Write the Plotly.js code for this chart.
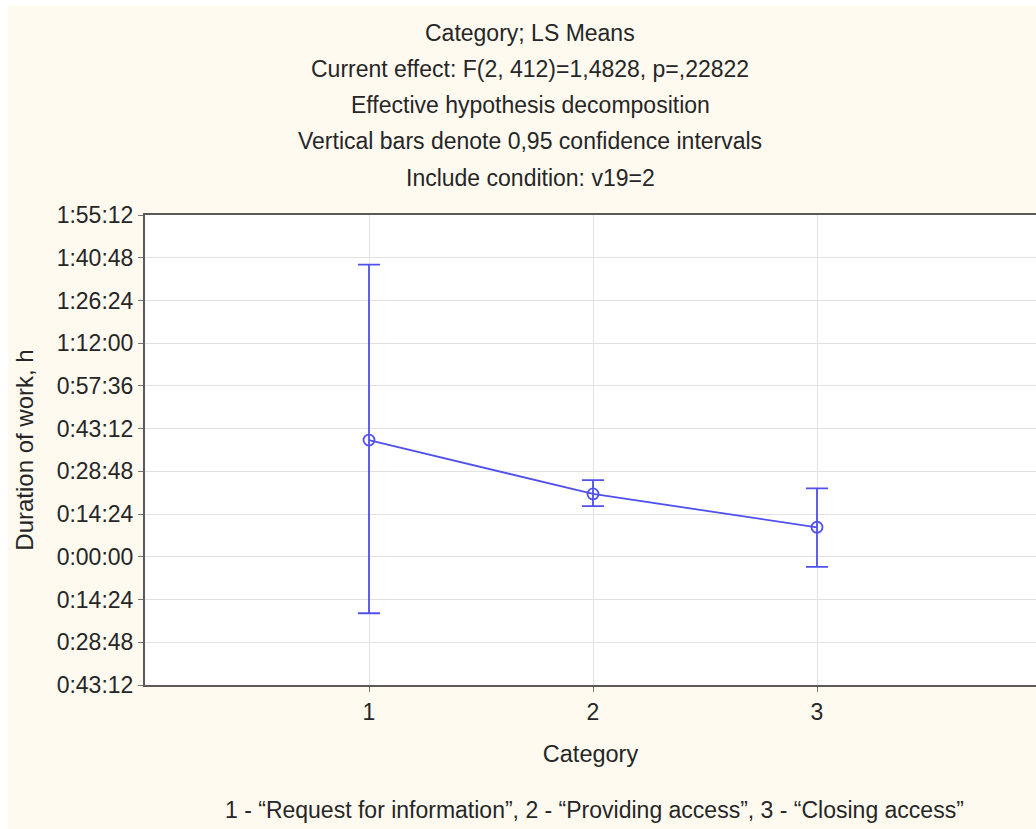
<!DOCTYPE html>
<html>
<head>
<meta charset="utf-8">
<script src="https://cdn.plot.ly/plotly-3.0.1.min.js"></script>
<style>
  html, body { margin: 0; padding: 0; background: #ffffff; width: 1036px; height: 829px; overflow: hidden; }
  #chart { position: absolute; left: 8px; top: 6px; width: 1028px; height: 823px; }
</style>
</head>
<body>
<div id="chart"></div>
<script>
// Categories and LS means (hours), with 0.95 confidence bounds
const categories = [1, 2, 3];
const meanHours = [0.656, 0.353, 0.166];
const upperHours = [1.641, 0.431, 0.385];
const lowerHours = [-0.317, 0.285, -0.056];

// Y tick values (hours) and their labels as printed
const yTickVals = [1.92, 1.68, 1.44, 1.2, 0.96, 0.72, 0.48, 0.24, 0, -0.24, -0.48, -0.72];
const yTickLabels = ["1:55:12", "1:40:48", "1:26:24", "1:12:00", "0:57:36", "0:43:12",
                     "0:28:48", "0:14:24", "0:00:00", "0:14:24", "0:28:48", "0:43:12"];

const titleLines = [
  "Category; LS Means",
  "Current effect: F(2, 412)=1,4828, p=,22822",
  "Effective hypothesis decomposition",
  "Vertical bars denote 0,95 confidence intervals",
  "Include condition: v19=2"
];
const footnote = "1 - \u201cRequest for information\u201d, 2 - \u201cProviding access\u201d, 3 - \u201cClosing access\u201d";

const errPlus = meanHours.map((m, i) => upperHours[i] - m);
const errMinus = meanHours.map((m, i) => m - lowerHours[i]);

const lineColor = '#5050ee';
const textColor = '#262626';
const fontFam = 'Liberation Sans, Arial, sans-serif';

const trace = {
  x: categories,
  y: meanHours,
  type: 'scatter',
  mode: 'lines+markers',
  line: { color: lineColor, width: 1.8 },
  marker: { symbol: 'circle-open', size: 11, color: lineColor, line: { width: 1.8, color: lineColor } },
  error_y: {
    type: 'data', symmetric: false,
    array: errPlus, arrayminus: errMinus,
    color: lineColor, thickness: 1.8, width: 11
  },
  hoverinfo: 'skip'
};

const plotTop = 209, plotBottom = 679;
const ph = plotBottom - plotTop;
const H = 823;
// Title line centre positions (pixel y within the chart div)
const titleY = [27, 63, 99, 135, 172];
const annots = titleLines.map((t, i) => ({
  text: t, xref: 'paper', yref: 'paper',
  x: (530 - 8 - 137) / 891,
  y: (plotBottom - titleY[i]) / ph,
  xanchor: 'center', yanchor: 'middle', showarrow: false,
  font: { size: 23, color: textColor, family: fontFam }
}));
annots.push({
  text: footnote, xref: 'paper', yref: 'paper',
  x: (594 - 8 - 137) / 891,
  y: (plotBottom - 804) / ph,
  xanchor: 'center', yanchor: 'middle', showarrow: false,
  font: { size: 23, color: textColor, family: fontFam }
});

const layout = {
  width: 1028, height: 823,
  margin: { l: 137, r: 0, t: plotTop, b: H - plotBottom, pad: 0 },
  paper_bgcolor: '#fefaf0',
  plot_bgcolor: '#ffffff',
  showlegend: false,
  font: { family: fontFam, color: textColor, size: 23 },
  xaxis: {
    range: [0, 891 / 224],
    tickvals: categories,
    ticktext: categories.map(String),
    showgrid: true, gridcolor: '#e2e2e2', gridwidth: 1,
    zeroline: false,
    showline: true, linecolor: '#5a5a5a', linewidth: 2, mirror: true,
    ticks: 'outside', ticklen: 5, tickcolor: '#777777',
    tickfont: { size: 23, color: textColor },
    title: { text: 'Category', font: { size: 23.5, color: textColor }, standoff: 22 }
  },
  yaxis: {
    range: [-0.72, 1.92],
    tickvals: yTickVals,
    ticktext: yTickLabels,
    showgrid: true, gridcolor: '#e2e2e2', gridwidth: 1,
    zeroline: false,
    showline: true, linecolor: '#5a5a5a', linewidth: 2,
    ticks: 'outside', ticklen: 5, tickcolor: '#777777',
    tickfont: { size: 23, color: textColor },
    title: { text: 'Duration of work, h', font: { size: 24, color: textColor }, standoff: 16 }
  },
  annotations: annots
};

Plotly.newPlot('chart', [trace], layout, { displayModeBar: false, staticPlot: true });
</script>
</body>
</html>
